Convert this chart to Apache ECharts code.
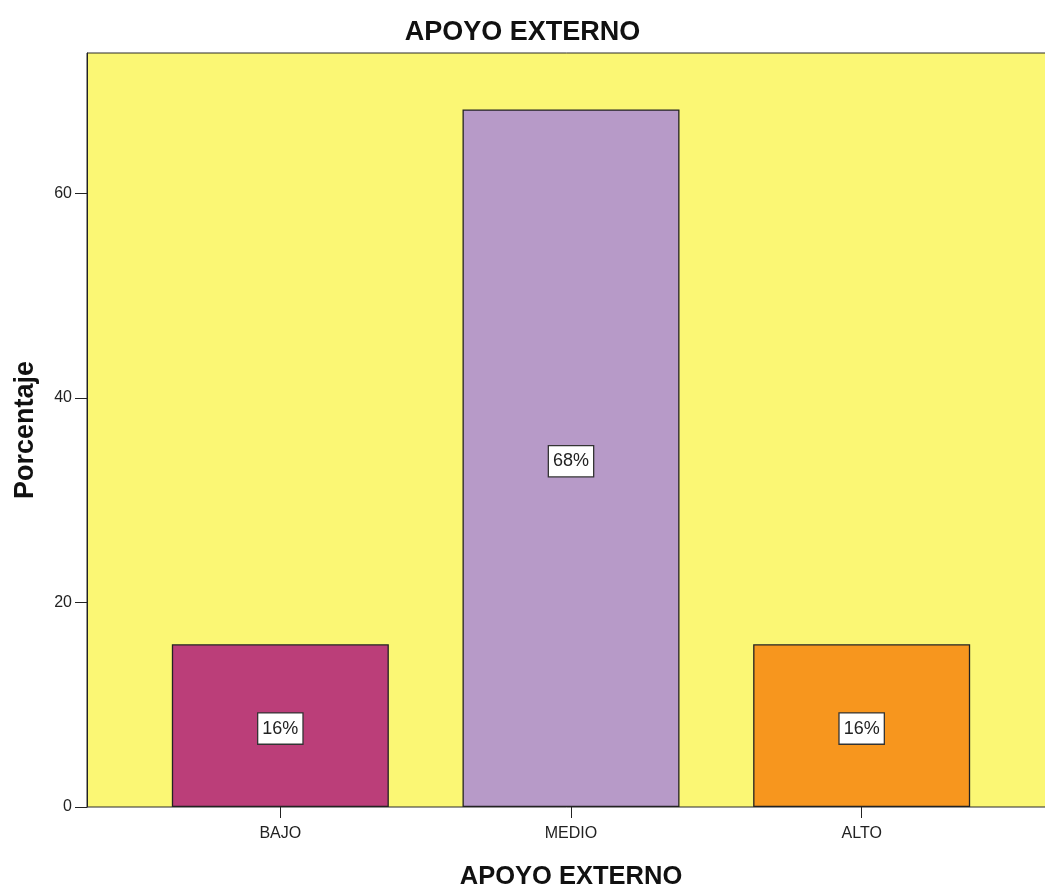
<!DOCTYPE html>
<html>
<head>
<meta charset="utf-8">
<script src="https://cdn.jsdelivr.net/npm/echarts@6/dist/echarts.min.js"></script>
<style>
html,body{margin:0;padding:0;background:#fff;}
#chart{width:1045px;height:887px;}
</style>
</head>
<body>
<div id="chart"></div>
<script>
const categories = ['BAJO', 'MEDIO', 'ALTO'];
const percentValues = [15.91, 68.18, 15.91];
const barColors = ['#bb3e79', '#b79ac8', '#f7961e'];
const yTickValues = [0, 20, 40, 60];
const titleText = 'APOYO EXTERNO';
const xAxisName = 'APOYO EXTERNO';
const yAxisName = 'Porcentaje';

const FONT = "'Liberation Sans', Arial, sans-serif";
const chart = echarts.init(document.getElementById('chart'), null, {renderer: 'canvas'});
const Y_MAX = 73.7;

const option = {
  backgroundColor: '#ffffff',
  animation: false,
  title: {
    text: titleText,
    left: 'center',
    top: 14,
    textStyle: {fontFamily: FONT, fontSize: 27, fontWeight: 'bold', color: '#111'}
  },
  grid: [
    {left: 87, right: -3, top: 53, bottom: 80, show: true, containLabel: false, outerBoundsMode: 'none',
     backgroundColor: '#fbf774', borderColor: '#2a2a2a', borderWidth: 1},
    {left: 135, right: 38, top: 53, bottom: 80, containLabel: false, outerBoundsMode: 'none'}
  ],
  xAxis: [
    {type: 'value', gridIndex: 0, show: false, min: 0, max: 1},
    {type: 'category', gridIndex: 1, data: categories,
     axisLine: {show: false},
     axisTick: {show: true, alignWithLabel: true, length: 11, lineStyle: {color: '#222', width: 1}},
     axisLabel: {margin: 19, fontFamily: FONT, fontSize: 16, color: '#222'},
     name: xAxisName, nameLocation: 'middle', nameGap: 57,
     nameTextStyle: {fontFamily: FONT, fontSize: 25.5, fontWeight: 'bold', color: '#111'}
    }
  ],
  yAxis: [
    {type: 'value', gridIndex: 0, min: 0, max: Y_MAX,
     axisLine: {show: true, lineStyle: {color: '#222', width: 1}},
     axisTick: {show: true, length: 12, customValues: yTickValues, lineStyle: {color: '#222'}},
     axisLabel: {margin: 15, customValues: yTickValues, fontFamily: FONT, fontSize: 16, color: '#222'},
     splitLine: {show: false},
     name: yAxisName, nameLocation: 'middle', nameGap: 48,
     nameTextStyle: {fontFamily: FONT, fontSize: 27, fontWeight: 'bold', color: '#111'}
    },
    {type: 'value', gridIndex: 1, min: 0, max: Y_MAX, show: false, splitLine: {show: false}}
  ],
  series: [{
    type: 'bar',
    xAxisIndex: 1,
    yAxisIndex: 1,
    barWidth: 217,
    data: percentValues.map((v, i) => ({value: v, itemStyle: {color: barColors[i]}})),
    itemStyle: {borderColor: '#222', borderWidth: 1.3},
    label: {
      show: true,
      position: 'inside',
      offset: [0, 3],
      formatter: p => Math.round(p.value) + '%',
      fontFamily: FONT, fontSize: 18, color: '#222',
      backgroundColor: '#ffffff', borderColor: '#333', borderWidth: 1.3,
      padding: [6, 4, 5, 4], lineHeight: 19
    }
  }]
};
chart.setOption(option);
</script>
</body>
</html>
